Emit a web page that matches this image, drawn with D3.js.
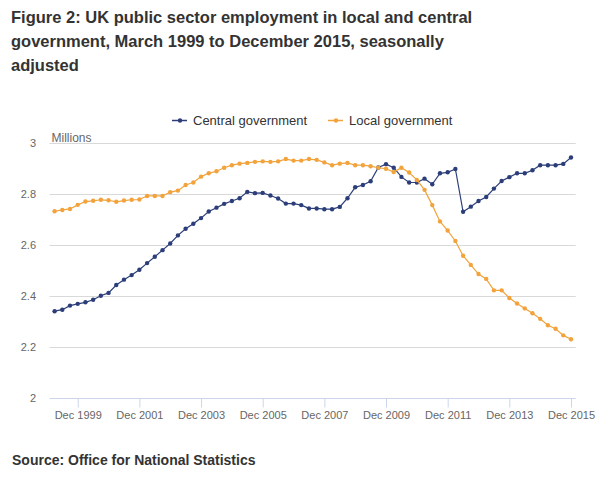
<!DOCTYPE html>
<html>
<head>
<meta charset="utf-8">
<script src="https://cdn.jsdelivr.net/npm/d3@7"></script>
<style>
  body { margin: 0; background: #fff; }
  svg { display: block; font-family: "Liberation Sans", Arial, sans-serif; }
</style>
</head>
<body>
<svg id="chart" width="607" height="478"></svg>
<script>
// quarterly categories, March 1999 to December 2015
var years = d3.range(1999, 2016);
var months = ["Mar", "Jun", "Sep", "Dec"];
var quarters = [];
years.forEach(function(y) {
  months.forEach(function(m) { quarters.push(m + " " + y); });
});

// millions
var central = [
  2.340, 2.346, 2.362, 2.369, 2.375, 2.385, 2.401, 2.412, 2.443, 2.464,
  2.482, 2.503, 2.529, 2.554, 2.580, 2.606, 2.638, 2.664, 2.684, 2.706,
  2.732, 2.747, 2.762, 2.773, 2.784, 2.809, 2.804, 2.805, 2.795, 2.783,
  2.763, 2.763, 2.757, 2.744, 2.744, 2.741, 2.741, 2.750, 2.784, 2.827,
  2.836, 2.851, 2.905, 2.918, 2.904, 2.868, 2.846, 2.846, 2.861, 2.839,
  2.882, 2.886, 2.899, 2.731, 2.751, 2.773, 2.789, 2.822, 2.852, 2.867,
  2.882, 2.882, 2.894, 2.914, 2.914, 2.914, 2.919, 2.944
];
var local = [
  2.733, 2.738, 2.742, 2.758, 2.771, 2.774, 2.778, 2.776, 2.770, 2.775,
  2.778, 2.779, 2.793, 2.793, 2.793, 2.808, 2.814, 2.836, 2.846, 2.869,
  2.882, 2.890, 2.904, 2.914, 2.920, 2.923, 2.927, 2.929, 2.927, 2.929,
  2.938, 2.932, 2.932, 2.938, 2.935, 2.925, 2.914, 2.920, 2.923, 2.914,
  2.914, 2.910, 2.904, 2.900, 2.887, 2.904, 2.885, 2.856, 2.817, 2.757,
  2.693, 2.657, 2.616, 2.558, 2.522, 2.486, 2.467, 2.422, 2.422, 2.392,
  2.370, 2.351, 2.332, 2.310, 2.285, 2.271, 2.245, 2.230
];
var yTicks = [2, 2.2, 2.4, 2.6, 2.8, 3];
var xTickLabels = ["Dec 1999", "Dec 2001", "Dec 2003", "Dec 2005", "Dec 2007",
                   "Dec 2009", "Dec 2011", "Dec 2013", "Dec 2015"];

var series = [
  {name: "Central government", values: central, color: "#2c3e7a"},
  {name: "Local government", values: local, color: "#f2a33c"}
];

var svg = d3.select("#chart");
var plotLeft = 49.5, plotRight = 575.7;

var x = d3.scalePoint().domain(quarters).range([54.6, 571]);
var y = d3.scaleLinear().domain([2, 3]).range([397.7, 143.3]);

// title
var title = ["Figure 2: UK public sector employment in local and central",
             "government, March 1999 to December 2015, seasonally",
             "adjusted"];
svg.append("g").selectAll("text")
    .data(title)
    .enter().append("text")
    .attr("x", 11)
    .attr("y", function(d, i) { return 23 + i * 24; })
    .style("font-size", "16.5px")
    .style("font-weight", "bold")
    .style("fill", "#333")
    .text(function(d) { return d; });

// gridlines
svg.append("g").selectAll("line")
    .data(yTicks.filter(function(d) { return d > 2; }))
    .enter().append("line")
    .attr("x1", plotLeft).attr("x2", plotRight)
    .attr("y1", function(d) { return Math.round(y(d)) + 0.5; })
    .attr("y2", function(d) { return Math.round(y(d)) + 0.5; })
    .style("stroke", "#d9d9d9")
    .style("stroke-width", 1);

// y labels
svg.append("g").selectAll("text")
    .data(yTicks)
    .enter().append("text")
    .attr("x", 36)
    .attr("y", function(d) { return y(d); })
    .attr("dy", "0.35em")
    .style("text-anchor", "end")
    .style("font-size", "11px")
    .style("fill", "#666")
    .text(function(d) { return d3.format("~g")(d); });

svg.append("text")
    .attr("x", 51.5)
    .attr("y", 142)
    .style("font-size", "12px")
    .style("fill", "#666")
    .text("Millions");

// x axis
var xAxis = d3.axisBottom(x)
    .tickValues(xTickLabels)
    .tickSize(9)
    .tickSizeOuter(0)
    .tickPadding(4);
var gx = svg.append("g")
    .attr("transform", "translate(0," + (Math.round(y(2)) + 0.5) + ")")
    .call(xAxis);
gx.select(".domain").remove();
gx.append("line")
    .attr("x1", plotLeft).attr("x2", plotRight)
    .style("stroke", "#ccd6eb");
gx.selectAll(".tick line").style("stroke", "#ccd6eb");
gx.selectAll(".tick text")
    .style("font-family", "'Liberation Sans', Arial, sans-serif")
    .style("font-size", "11px")
    .style("fill", "#666");

// lines and markers
var line = d3.line()
    .x(function(d, i) { return x(quarters[i]); })
    .y(function(d) { return y(d); });

series.forEach(function(s) {
  var g = svg.append("g");
  g.append("path")
      .datum(s.values)
      .attr("d", line)
      .style("fill", "none")
      .style("stroke", s.color)
      .style("stroke-width", 1.2);
  g.selectAll("circle")
      .data(s.values)
      .enter().append("circle")
      .attr("cx", function(d, i) { return x(quarters[i]); })
      .attr("cy", function(d) { return y(d); })
      .attr("r", 2.2)
      .style("fill", s.color);
});

// legend
var legendX = [172, 328];
var legend = svg.append("g").selectAll("g")
    .data(series)
    .enter().append("g")
    .attr("transform", function(d, i) { return "translate(" + legendX[i] + ",120.5)"; });
legend.append("line")
    .attr("x1", 0).attr("x2", 15)
    .style("stroke", function(d) { return d.color; })
    .style("stroke-width", 1.5);
legend.append("circle")
    .attr("cx", 8).attr("r", 2.2)
    .style("fill", function(d) { return d.color; });
legend.append("text")
    .attr("x", 21)
    .attr("dy", "0.35em")
    .style("font-size", "13px")
    .style("fill", "#333")
    .text(function(d) { return d.name; });

// source
svg.append("text")
    .attr("x", 12)
    .attr("y", 465)
    .style("font-size", "14px")
    .style("font-weight", "bold")
    .style("fill", "#333")
    .text("Source: Office for National Statistics");
</script>
</body>
</html>
